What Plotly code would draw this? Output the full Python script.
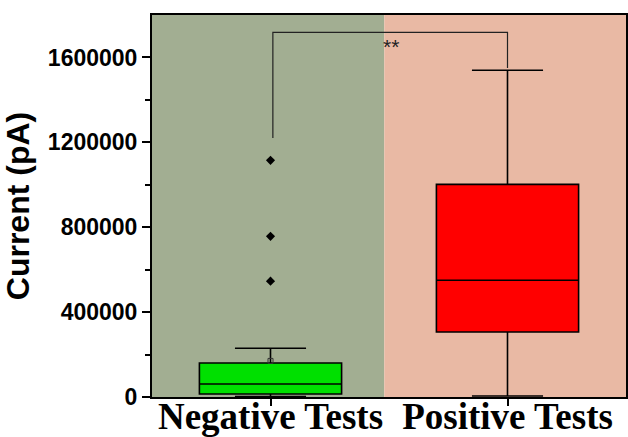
import plotly.graph_objects as go

# Summary statistics for the two test groups (current in pA)
groups = ["Negative Tests", "Positive Tests"]
q1 = [14000, 306000]
median = [61000, 550000]
q3 = [160000, 1002000]
lower_fence = [2000, 5000]
upper_fence = [230000, 1540000]
means = [170000]
box_colors = ["#00E000", "#FF0000"]

# Outlying points of the negative group
neg_outliers = [546000, 757000, 1115000]

# Significance bracket levels
bracket_top = 1718000
bracket_left_end = 1220000
bracket_right_end = 1550000
sig_label = "**"

x_pos = [0, 1]

fig = go.Figure()

# shaded group backgrounds
fig.add_shape(type="rect", xref="x", yref="paper", x0=-0.5, x1=0.48, y0=0, y1=1,
              fillcolor="#A2AE92", line_width=0, layer="below")
fig.add_shape(type="rect", xref="x", yref="paper", x0=0.48, x1=1.5, y0=0, y1=1,
              fillcolor="#E9B9A4", line_width=0, layer="below")

for i in range(2):
    fig.add_trace(go.Box(
        x=[x_pos[i]], q1=[q1[i]], median=[median[i]], q3=[q3[i]],
        lowerfence=[lower_fence[i]], upperfence=[upper_fence[i]],
        width=0.6, whiskerwidth=0.5, fillcolor=box_colors[i],
        line=dict(color="black", width=1.6), boxpoints=False,
        showlegend=False, hoverinfo="skip",
    ))

fig.add_trace(go.Scatter(
    x=[x_pos[0]] * len(neg_outliers), y=neg_outliers, mode="markers",
    marker=dict(symbol="diamond", size=7, color="black"), showlegend=False,
))
fig.add_trace(go.Scatter(
    x=[x_pos[0]], y=means, mode="markers",
    marker=dict(symbol="square-open", size=5, color="#333333", line=dict(width=1)),
    showlegend=False,
))

# significance bracket
fig.add_trace(go.Scatter(
    x=[x_pos[0] + 0.01, x_pos[0] + 0.01, x_pos[1], x_pos[1]],
    y=[bracket_left_end, bracket_top, bracket_top, bracket_right_end],
    mode="lines", line=dict(color="#222222", width=1.2), showlegend=False,
))
fig.add_annotation(x=0.51, y=1650000, text=sig_label, showarrow=False,
                   font=dict(family="Liberation Sans", size=21, color="#222222"))

fig.update_xaxes(
    range=[-0.5, 1.5], tickvals=x_pos, ticktext=groups, automargin=False,
    tickfont=dict(family="Liberation Serif", size=37, color="black", weight="bold"),
    ticks="outside", ticklen=7, tickwidth=1.5, tickcolor="black",
    ticklabelstandoff=-21,
    showline=True, linecolor="black", linewidth=2, mirror=True,
    showgrid=False, zeroline=False,
)
fig.update_yaxes(
    range=[0, 1800000], tickvals=[0, 400000, 800000, 1200000, 1600000],
    ticktext=["0", "400000", "800000", "1200000", "1600000"], automargin=False,
    tickfont=dict(family="Liberation Sans", size=23, color="black", weight="bold"),
    ticks="outside", ticklen=8, tickwidth=2, tickcolor="black",
    minor=dict(tickvals=[200000, 600000, 1000000, 1400000], ticks="outside",
               ticklen=5, tickwidth=2, tickcolor="black", showgrid=False),
    showline=True, linecolor="black", linewidth=2, mirror=True,
    showgrid=False, zeroline=False,
    title=dict(text="Current (pA)", standoff=9,
               font=dict(family="Liberation Sans", size=32, color="black", weight="bold")),
)

fig.update_layout(
    width=628, height=437,
    margin=dict(l=152, r=2, t=15, b=40),
    paper_bgcolor="white", plot_bgcolor="white",
)

fig.write_html("out.html")
